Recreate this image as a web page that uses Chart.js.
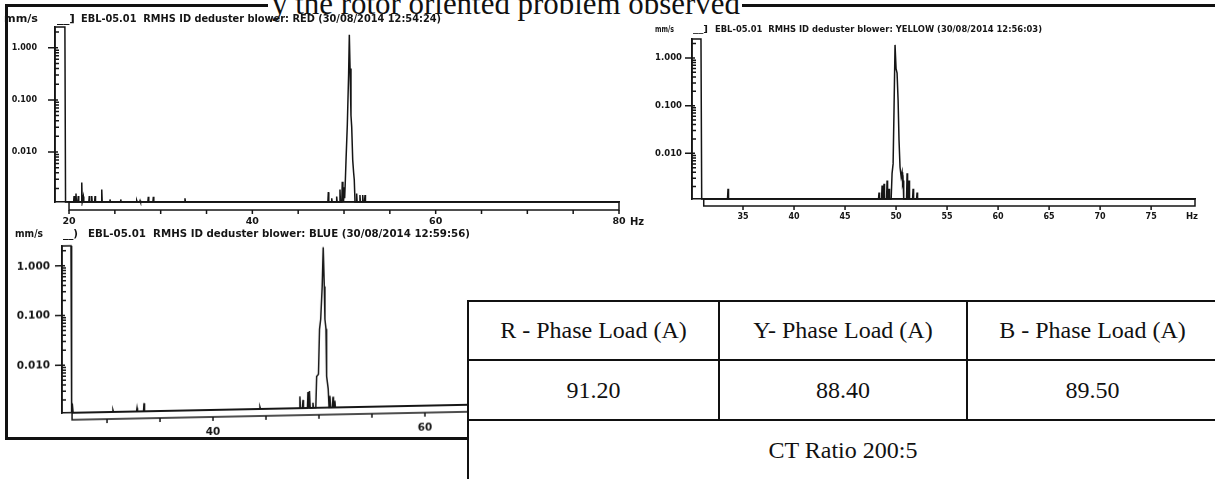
<!DOCTYPE html>
<html>
<head>
<meta charset="utf-8">
<title>RMHS ID deduster blower – current spectra</title>
<script src="https://cdn.jsdelivr.net/npm/chart.js@4/dist/chart.umd.min.js"></script>
<style>
  html, body { margin: 0; padding: 0; background: #fff; }
  #page { position: relative; width: 1215px; height: 479px; overflow: hidden; background: #fff; }
  .line { position: absolute; background: #111; }
  .lbl { position: absolute; white-space: nowrap; line-height: 1; color: #151515; font-weight: bold;
         font-family: "DejaVu Sans", sans-serif; transform-origin: 0 50%; filter: blur(0.3px); }
  .wrap { position: absolute; filter: blur(0.3px); }
  .wrap canvas { position: absolute; left: 0; top: 0; }
  #heading { position: absolute; white-space: nowrap; line-height: 1; color: #111;
             font-family: "Liberation Serif", "Times New Roman", serif; font-size: 31px;
             transform-origin: 0 0; }
  #loads { position: absolute; left: 467px; top: 300px; width: 750px; height: 179px;
           border-collapse: collapse; table-layout: fixed; background: #fff;
           font-family: "Liberation Serif", "Times New Roman", serif; font-size: 24px; color: #111; }
  #loads td { border: 2px solid #111; text-align: center; vertical-align: middle; padding: 0; }
</style>
</head>
<body>
<div id="page">
  <!-- page frame -->
  <div class="line" style="left:5px;top:4px;width:1210px;height:3px"></div>
  <div class="line" style="left:5px;top:4px;width:3px;height:436px"></div>
  <div class="line" style="left:5px;top:437px;width:463px;height:3px"></div>
  <div style="position:absolute;left:268px;top:2px;width:474px;height:7px;background:#fff"></div>
  <div id="heading" style="left:272px;top:-12px" data-w="468">y the rotor oriented problem observed</div>

  <!-- spectrum canvases -->
  <div class="wrap" id="wRed"><canvas id="cRed"></canvas></div>
  <div class="wrap" id="wYellow"><canvas id="cYellow"></canvas></div>
  <div class="wrap" id="wBlue"><canvas id="cBlue"></canvas></div>

  <!-- plot headers -->
  <div class="lbl" style="left:4px;top:13px;font-size:11px" data-w="34">mm/s</div>
  <div class="lbl" style="left:57px;top:13px;font-size:11px" data-w="18">__]</div>
  <div class="lbl" style="left:81px;top:13px;font-size:11px" data-w="360">EBL-05.01&nbsp; RMHS ID deduster blower: RED (30/08/2014 12:54:24)</div>

  <div class="lbl" style="left:655px;top:25px;font-size:9px" data-w="19">mm/s</div>
  <div class="lbl" style="left:693px;top:25px;font-size:9px" data-w="15">__]</div>
  <div class="lbl" style="left:715px;top:25px;font-size:9px" data-w="327">EBL-05.01&nbsp; RMHS ID deduster blower: YELLOW (30/08/2014 12:56:03)</div>

  <div class="lbl" style="left:15px;top:228px;font-size:11px" data-w="28">mm/s</div>
  <div class="lbl" style="left:63px;top:228px;font-size:11px" data-w="15">__)</div>
  <div class="lbl" style="left:88px;top:228px;font-size:11px" data-w="382">EBL-05.01&nbsp; RMHS ID deduster blower: BLUE (30/08/2014 12:59:56)</div>

  <div class="lbl" style="left:630px;top:217px;font-size:10px">Hz</div>
  <div class="lbl" style="left:1186px;top:212px;font-size:8.5px">Hz</div>

  <table id="loads">
    <colgroup><col style="width:251px"><col style="width:248px"><col style="width:251px"></colgroup>
    <tr style="height:59px"><td id="h0"></td><td id="h1"></td><td id="h2"></td></tr>
    <tr style="height:60px"><td id="v0"></td><td id="v1"></td><td id="v2"></td></tr>
    <tr style="height:60px"><td colspan="3" id="ct"></td></tr>
  </table>
</div>

<script>
// ---- load table ----
const phaseNames = ['R - Phase Load (A)', 'Y- Phase Load (A)', 'B - Phase Load (A)'];
const phaseLoads = [91.20, 88.40, 89.50];
const ctRatio = 'CT Ratio 200:5';

// ---- vertical axis (log, mm/s) ----
const yMin = 0.0011;
const yMax = 2.5;
const yMajorTicks = [0.01, 0.1, 1];
const yMajorLabels = ['0.010', '0.100', '1.000'];

// noise floor of the analyser trace (sits on the axis)
const F = 0.0011;

// ---- RED phase spectrum ----
const redXLabels = [20, 40, 60, 80];
const redHz = [
  18.47, 18.47, 19.55, 19.62,
  20.50, 20.55, 20.60,  20.71, 20.76, 20.81,  20.96, 21.01, 21.06,
  21.34, 21.39, 21.44,  21.51, 21.56, 21.61,  22.16, 22.21, 22.26,
  22.43, 22.48, 22.53,  22.79, 22.84, 22.89,  23.52, 23.57, 23.62,
  24.42, 24.47, 24.52,  25.59, 25.64, 25.69,  27.34, 27.39, 27.44,
  27.70, 27.75, 27.80,  28.60, 28.65, 28.70,  29.15, 29.20, 29.25,
  32.60, 32.65, 32.70,
  48.24, 48.29, 48.34,  48.61, 48.66, 48.71,  49.15, 49.20, 49.25,
  49.51, 49.56, 49.61,  49.76, 49.81, 49.88, 49.95, 50.00, 50.07,
  50.15, 50.22, 50.36, 50.50, 50.58, 50.66, 50.76, 50.84, 50.95,
  51.05, 51.12, 51.20,
  51.33, 51.38, 51.43,  51.69, 51.74, 51.79,  51.99, 52.04, 52.09,
  52.24, 52.29, 52.34,
  80.00
];
const redAmp = [
  F, 2.5, 2.5, F,
  F, 0.00143, F,  F, 0.0016, F,  F, 0.00143, F,
  F, 0.0026, F,  F, 0.0014, F,  F, 0.00143, F,
  F, 0.00143, F,  F, 0.00143, F,  F, 0.0019, F,
  F, 0.00123, F,  F, 0.00123, F,  F, 0.00117, F,
  F, 0.00117, F,  F, 0.00138, F,  F, 0.00138, F,
  F, 0.0013, F,
  F, 0.0017, F,  F, 0.0013, F,  F, 0.0014, F,
  F, 0.0019, F,  F, 0.0027, 0.0014, F, 0.0021, 0.0013,
  0.0030, 0.007, 0.033, 0.30, 1.78, 0.40, 0.050, 0.030, 0.007,
  0.004, 0.0029, F,
  F, 0.0016, F,  F, 0.0015, F,  F, 0.0015, F,
  F, 0.0015, F,
  F
];

// ---- YELLOW phase spectrum ----
const yellowXLabels = [35, 40, 45, 50, 55, 60, 65, 70, 75];
const yellowHz = [
  30.00, 30.00, 30.88, 30.95,
  33.48, 33.53, 33.58,
  48.28, 48.33, 48.38,  48.58, 48.63, 48.68,  48.77, 48.82, 48.87,
  49.07, 49.12, 49.17,  49.26, 49.31, 49.36,
  49.52, 49.61, 49.71, 49.80, 49.90, 50.00, 50.10, 50.20, 50.29, 50.39, 50.50, 50.59, 50.64, 50.69, 50.75,
  51.03, 51.08, 51.13,  51.22, 51.27, 51.32,  51.62, 51.67, 51.72,
  52.01, 52.06, 52.11,
  79.30
];
const yellowAmp = [
  F, 2.5, 2.5, F,
  F, 0.0018, F,
  F, 0.0015, F,  F, 0.0021, F,  F, 0.0023, F,
  F, 0.0027, F,  F, 0.0018, F,
  F, 0.0038, 0.006, 0.08, 1.88, 0.60, 0.48, 0.13, 0.019, 0.0051, 0.0032, 0.0040, 0.0024, 0.0027, F,
  F, 0.0038, F,  F, 0.0027, F,  F, 0.0018, F,
  F, 0.0015, F,
  F
];

// ---- BLUE phase spectrum ----
const blueXLabels = [40, 60];
const blueHz = [
  25.75, 25.75, 26.60, 26.66, 26.72, 26.80,
  30.51, 30.56, 30.61,  32.78, 32.83, 32.88,  33.44, 33.49, 33.54,
  44.38, 44.43, 44.48,
  48.15, 48.20, 48.25,  48.44, 48.49, 48.54,  48.91, 48.96, 49.03, 49.10, 49.17,
  49.38, 49.43, 49.48,
  49.70, 49.78, 49.95, 50.05, 50.16, 50.30, 50.40, 50.50, 50.56, 50.66, 50.72, 50.87, 50.95, 51.03, 51.10,
  51.27, 51.32, 51.37,  51.45, 51.50, 51.55,
  80.00
];
const blueAmp = [
  F, 2.5, 2.5, F, 0.0017, F,
  F, 0.0012, F,  F, 0.0013, F,  F, 0.0016, F,
  F, 0.0012, F,
  F, 0.0019, F,  F, 0.0016, F,  F, 0.0023, F, 0.0024, F,
  F, 0.0014, F,
  F, 0.0047, 0.0052, 0.042, 0.066, 0.30, 1.85, 0.30, 0.066, 0.042, 0.0047, 0.0026, F, 0.0019, F,
  F, 0.0018, F,  F, 0.0015, F,
  F
];

// ---- table text ----
phaseNames.forEach((n, i) => { document.getElementById('h' + i).textContent = n; });
phaseLoads.forEach((v, i) => { document.getElementById('v' + i).textContent = v.toFixed(2); });
document.getElementById('ct').textContent = ctRatio;

const INK = '#151515';

function isMajor(v) { return yMajorTicks.some(m => Math.abs(m - v) < 1e-9); }

// axis band (double x axis line) and the tick marks of the printout
function axisDecor(o) {
  return {
    id: 'axisDecor',
    afterDraw(chart) {
      const { ctx, chartArea: a, scales: { x, y } } = chart;
      ctx.save();
      ctx.strokeStyle = INK;
      ctx.lineWidth = 1.5;
      ctx.beginPath();
      y.ticks.forEach(t => {
        const py = y.getPixelForValue(t.value);
        if (isMajor(t.value)) { ctx.moveTo(a.left - 7, py); ctx.lineTo(a.left + 3, py); }
        else { ctx.moveTo(a.left, py); ctx.lineTo(a.left + 4, py); }
      });
      ctx.stroke();
      const x0 = x.getPixelForValue(o.bandStart);
      ctx.strokeRect(x0, a.bottom, a.right - x0, o.bandH);
      ctx.beginPath();
      x.ticks.forEach(t => {
        if (t.value < o.bandStart) return;
        const px = x.getPixelForValue(t.value);
        ctx.moveTo(px, a.bottom + o.bandH);
        ctx.lineTo(px, a.bottom + o.bandH + 4);
      });
      ctx.stroke();
      ctx.restore();
    }
  };
}

function spectrum(cfg) {
  const wrap = document.getElementById(cfg.wrap);
  const cv = document.getElementById(cfg.canvas);
  const w = cfg.yW + cfg.plotW + cfg.padR;
  const h = cfg.padT + cfg.plotH + cfg.xH;
  wrap.style.left = (cfg.left - cfg.yW) + 'px';
  wrap.style.top = (cfg.top - cfg.padT) + 'px';
  wrap.style.width = w + 'px';
  wrap.style.height = h + 'px';
  if (cfg.skew) {
    wrap.style.transformOrigin = cfg.yW + 'px ' + (cfg.padT + cfg.plotH) + 'px';
    wrap.style.transform = 'skewY(' + cfg.skew + 'deg)';
  }
  cv.width = w; cv.height = h;
  cv.style.width = w + 'px'; cv.style.height = h + 'px';

  const pts = cfg.hz.map((f, i) => ({ x: f, y: cfg.amp[i] }));
  const tickFont = (size) => ({ family: 'DejaVu Sans', size: size, weight: 'bold' });

  return new Chart(cv, {
    type: 'line',
    data: { datasets: [{ data: pts, borderColor: INK, borderWidth: 1.5, pointRadius: 0,
                         tension: 0, fill: false, clip: 4 }] },
    options: {
      responsive: false, animation: false, events: [],
      layout: { padding: { top: cfg.padT, right: cfg.padR, left: 0, bottom: 0 }, autoPadding: false },
      plugins: { legend: { display: false }, tooltip: { enabled: false }, title: { display: false } },
      scales: {
        x: {
          type: 'linear', min: cfg.xMin, max: cfg.xMax,
          afterFit: s => { s.height = cfg.xH; s.paddingLeft = 0; s.paddingRight = 0; },
          afterBuildTicks: s => {
            const t = [];
            for (let v = Math.ceil(s.min / 5) * 5; v <= s.max + 1e-9; v += 5) t.push({ value: v });
            s.ticks = t;
          },
          grid: { display: false, drawTicks: false },
          border: { display: true, color: INK, width: 1.6 },
          ticks: {
            autoSkip: false, maxRotation: 0, minRotation: 0, padding: cfg.xPad, color: INK,
            font: tickFont(cfg.xFont),
            callback: v => cfg.xLabels.includes(v) ? String(v) : ''
          }
        },
        y: {
          type: 'logarithmic', min: yMin, max: yMax,
          afterFit: s => { s.width = cfg.yW; s.paddingTop = 0; s.paddingBottom = 0; },
          afterBuildTicks: s => {
            const t = [];
            for (let e = -3; e <= 0; e++) {
              for (let d = 1; d <= 9; d++) {
                const v = +(d * Math.pow(10, e)).toFixed(6);
                if (v > s.min && v < s.max) t.push({ value: v });
              }
            }
            s.ticks = t;
          },
          grid: { display: false, drawTicks: false },
          border: { display: true, color: INK, width: 1.6 },
          ticks: {
            autoSkip: false, padding: cfg.yPad, color: INK,
            font: tickFont(cfg.yFont),
            callback: v => { const i = yMajorTicks.findIndex(m => Math.abs(m - v) < 1e-9);
                             return i >= 0 ? yMajorLabels[i] : ''; }
          }
        }
      }
    },
    plugins: [axisDecor({ bandStart: cfg.bandStart, bandH: cfg.bandH })]
  });
}

spectrum({ wrap: 'wRed', canvas: 'cRed', hz: redHz, amp: redAmp, xLabels: redXLabels,
  left: 55, top: 27, plotW: 564, plotH: 175, yW: 55, padT: 4, padR: 14, xH: 32,
  xMin: 18.47, xMax: 80, bandStart: 20, bandH: 8,
  xFont: 9.5, xPad: 14, yFont: 8, yPad: 18 });

spectrum({ wrap: 'wYellow', canvas: 'cYellow', hz: yellowHz, amp: yellowAmp, xLabels: yellowXLabels,
  left: 692, top: 39, plotW: 503, plotH: 160, yW: 45, padT: 4, padR: 12, xH: 30,
  xMin: 30, xMax: 79.3, bandStart: 31.15, bandH: 7,
  xFont: 8, xPad: 13, yFont: 8.5, yPad: 10 });

spectrum({ wrap: 'wBlue', canvas: 'cBlue', hz: blueHz, amp: blueAmp, xLabels: blueXLabels,
  left: 62, top: 246, plotW: 575, plotH: 167, yW: 58, padT: 4, padR: 14, xH: 34,
  xMin: 25.75, xMax: 80, bandStart: 26.7, bandH: 7,
  xFont: 10.5, xPad: 16, yFont: 10.5, yPad: 12, skew: -1.16 });

// stretch header texts to their printed widths
function fitTexts() {
  document.querySelectorAll('[data-w]').forEach(el => {
    el.style.transform = 'none';
    const w = el.getBoundingClientRect().width;
    const target = +el.dataset.w;
    if (w > 0) el.style.transform = 'scaleX(' + (target / w).toFixed(4) + ')';
  });
}
fitTexts();
if (document.fonts && document.fonts.ready) document.fonts.ready.then(fitTexts);
</script>
</body>
</html>
